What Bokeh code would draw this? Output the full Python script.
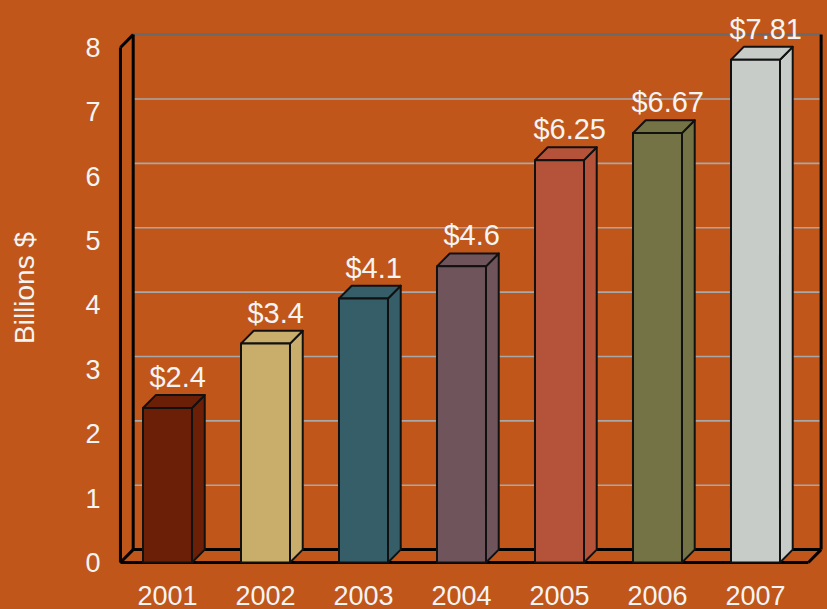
from bokeh.plotting import figure
from bokeh.models import Range1d, FixedTicker, ColumnDataSource
from bokeh.core.properties import value
from bokeh.embed import file_html
from bokeh.resources import INLINE

years = ["2001", "2002", "2003", "2004", "2005", "2006", "2007"]
revenue = [2.4, 3.4, 4.1, 4.6, 6.25, 6.67, 7.81]
labels = ["$2.4", "$3.4", "$4.1", "$4.6", "$6.25", "$6.67", "$7.81"]
bar_colors = ["#6B1F06", "#C9AD6A", "#355E69", "#70545C", "#B5533A", "#737346", "#C7CCC8"]
y_ticks = [0, 1, 2, 3, 4, 5, 6, 7, 8]

BG = "#C05619"
FONT = "Liberation Sans"
DX, DY = 0.13, 0.2      # 3-D depth offset in data units
HW = 0.25               # half bar width
WL, WR = -0.48, 6.54    # front left / right edges of floor
YMAX = 8

p = figure(width=827, height=609, output_backend="svg", toolbar_location=None,
           x_range=Range1d(-0.602, 6.735), y_range=Range1d(-0.202, 8.73),
           min_border_left=108, min_border_right=0, min_border_top=0, min_border_bottom=34,
           background_fill_color=None, border_fill_color=None, outline_line_color=None,
           styles={"background-color": BG})
p.grid.visible = False

# back-wall gridlines
n = len(y_ticks)
gy = [t + DY for t in y_ticks[1:]]
p.segment(x0=[WL + DX] * (n - 1), x1=[WR + DX] * (n - 1), y0=gy, y1=gy,
          line_color=["#A8A8A8"] * (n - 2) + ["#6A6A6A"], line_width=[1.6] * (n - 2) + [3])

# walls / floor outline
wx0 = [WL, WL + DX, WL, WL, WL + DX, WR, WR + DX, WL]
wy0 = [0, DY, YMAX, 0, DY, 0, DY, 0]
wx1 = [WL, WL + DX, WL + DX, WR, WR + DX, WR + DX, WR + DX, WL + DX]
wy1 = [YMAX, YMAX + DY, YMAX + DY, 0, DY, DY, YMAX + DY, DY]
p.segment(x0=wx0, y0=wy0, x1=wx1, y1=wy1, line_color="black", line_width=3)

# bars
xs_front, ys_front, xs_top, ys_top, xs_side, ys_side = [], [], [], [], [], []
for i, v in enumerate(revenue):
    l, r = i - HW, i + HW
    xs_front.append([l, r, r, l]); ys_front.append([0, 0, v, v])
    xs_top.append([l, l + DX, r + DX, r]); ys_top.append([v, v + DY, v + DY, v])
    xs_side.append([r, r, r + DX, r + DX]); ys_side.append([0, v, v + DY, DY])
for xs, ys in ((xs_side, ys_side), (xs_top, ys_top), (xs_front, ys_front)):
    p.patches(xs=xs, ys=ys, fill_color=bar_colors, line_color="#111111", line_width=2,
              line_join="round")

# value labels
src = ColumnDataSource(dict(x=[i + DX * 0.8 for i in range(len(revenue))],
                            y=[v + DY for v in revenue], t=labels))
p.text(x="x", y="y", text="t", source=src, text_align="center", text_baseline="bottom",
       y_offset=-2, text_color="#F4F4F4", text_font=value(FONT), text_font_size="29px")

# axes
p.xaxis.ticker = FixedTicker(ticks=list(range(len(years))))
p.xaxis.major_label_overrides = {i: y for i, y in enumerate(years)}
p.yaxis.ticker = FixedTicker(ticks=y_ticks)
p.yaxis.axis_label = "Billions $"
for ax in (p.xaxis[0], p.yaxis[0]):
    ax.axis_line_color = None
    ax.major_tick_line_color = None
    ax.minor_tick_line_color = None
    ax.major_tick_out = 0
    ax.major_tick_in = 0
    ax.major_label_text_color = "#F4F4F4"
    ax.major_label_text_font = FONT
    ax.major_label_text_font_size = "27px"
p.xaxis.major_label_standoff = 10
p.yaxis.major_label_standoff = 8
p.yaxis.axis_label_text_font = FONT
p.yaxis.axis_label_text_font_size = "28px"
p.yaxis.axis_label_text_font_style = "normal"
p.yaxis.axis_label_text_color = "#F4F4F4"
p.yaxis.axis_label_standoff = 42

open("out.html", "w").write(file_html(p, INLINE))
